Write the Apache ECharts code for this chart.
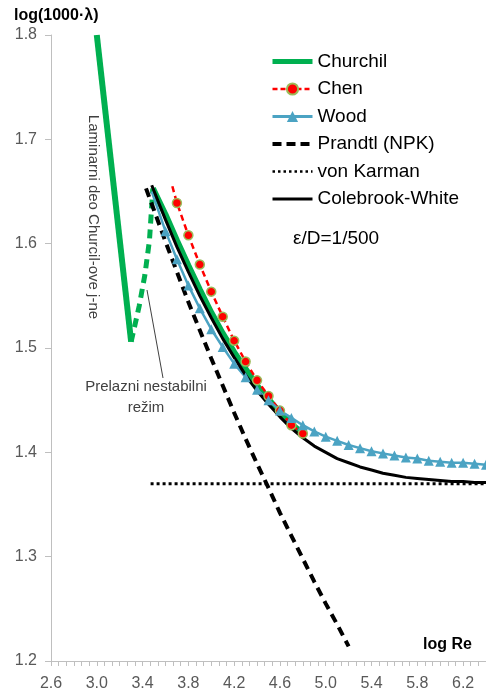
<!DOCTYPE html>
<html>
<head>
<meta charset="utf-8">
<script src="https://cdn.jsdelivr.net/npm/echarts@6/dist/echarts.min.js"></script>
<style>
  html, body { margin: 0; padding: 0; background: #fff; }
  #chart { width: 486px; height: 700px; }
</style>
</head>
<body>
<div id="chart"></div>
<script>
// log Re / log(1000*lambda)
const churchLamX = [3.0, 3.3];
const churchLamY = [1.8, 1.506];
const churchTransX = [3.3, 3.37, 3.42, 3.46, 3.49];
const churchTransY = [1.506, 1.54, 1.57, 1.603, 1.653];
const churchTurbX = [3.49, 3.6, 3.7, 3.8, 3.9, 4.0, 4.1, 4.2, 4.3, 4.4, 4.5, 4.6, 4.7, 4.8];
const churchTurbY = [1.653, 1.628, 1.603, 1.579, 1.556, 1.534, 1.514, 1.496, 1.480, 1.464, 1.451, 1.438, 1.427, 1.418];

const chenX = [3.66, 3.7, 3.8, 3.9, 4.0, 4.1, 4.2, 4.3, 4.4, 4.5, 4.6, 4.7, 4.8];
const chenY = [1.655, 1.639, 1.608, 1.580, 1.554, 1.530, 1.507, 1.487, 1.469, 1.454, 1.440, 1.426, 1.418];

const woodX = [3.48, 3.6, 3.7, 3.8, 3.9, 4.0, 4.1, 4.2, 4.3, 4.4, 4.5, 4.6, 4.7, 4.8, 4.9, 5.0,
  5.1, 5.2, 5.3, 5.4, 5.5, 5.6, 5.7, 5.8, 5.9, 6.0, 6.1, 6.2, 6.3, 6.4];
const woodY = [1.650, 1.612, 1.585, 1.560, 1.538, 1.518, 1.501, 1.485, 1.472, 1.460, 1.450, 1.440, 1.433, 1.426, 1.420, 1.415,
  1.411, 1.407, 1.404, 1.401, 1.399, 1.397, 1.395, 1.394, 1.392, 1.391, 1.390, 1.390, 1.389, 1.388];

const prandtlX = [3.43, 3.5, 3.6, 3.7, 3.8, 3.9, 4.0, 4.1, 4.2, 4.3, 4.4, 4.5, 4.6, 4.7, 4.8, 4.9, 5.0, 5.1, 5.2];
const prandtlY = [1.653, 1.632, 1.602, 1.573, 1.544, 1.517, 1.490, 1.464, 1.438, 1.413, 1.389, 1.366, 1.342, 1.320, 1.298, 1.276, 1.255, 1.235, 1.214];

const karmanX = [3.47, 6.4];
const karmanY = [1.37, 1.37];

const cwX = [3.48, 3.6, 3.7, 3.8, 3.9, 4.0, 4.1, 4.2, 4.3, 4.4, 4.5, 4.6, 4.7, 4.8, 4.9, 5.0,
  5.1, 5.2, 5.3, 5.4, 5.5, 5.6, 5.7, 5.8, 5.9, 6.0, 6.1, 6.2, 6.3, 6.4];
const cwY = [1.656, 1.623, 1.597, 1.573, 1.550, 1.529, 1.509, 1.491, 1.474, 1.459, 1.446, 1.434, 1.423, 1.414, 1.406, 1.400,
  1.394, 1.390, 1.386, 1.383, 1.380, 1.378, 1.376, 1.375, 1.374, 1.373, 1.372, 1.372, 1.371, 1.371];

const legendNames = ["Churchil", "Chen", "Wood", "Prandtl (NPK)", "von Karman", "Colebrook-White"];

const pairs = (xs, ys) => xs.map((x, i) => [x, ys[i]]);

const chart = echarts.init(document.getElementById("chart"));

const green = "#00B050";
const blue = "#4BA3C3";
const font = "'Liberation Sans', Arial, sans-serif";

// legend samples: line only for the plain series
const noSymbol = { opacity: 0 };
const legendData = [
  { name: legendNames[0], itemStyle: noSymbol, lineStyle: { color: green, width: 5 } },
  { name: legendNames[1], lineStyle: { color: "#FF0000", width: 2.5, type: [5, 3] } },
  { name: legendNames[2], lineStyle: { color: blue, width: 3 } },
  { name: legendNames[3], itemStyle: noSymbol, lineStyle: { color: "#000", width: 4, type: [9, 5] } },
  { name: legendNames[4], itemStyle: noSymbol, lineStyle: { color: "#000", width: 2.5, type: [2.5, 3] } },
  { name: legendNames[5], itemStyle: noSymbol, lineStyle: { color: "#000", width: 3 } },
];

const option = {
  animation: false,
  backgroundColor: "#fff",
  grid: {
    left: 51,
    right: 0,
    top: 35,
    bottom: 39,
    outerBoundsMode: "none",
  },
  legend: {
    data: legendData,
    orient: "vertical",
    left: 270,
    top: 52,
    padding: 0,
    itemWidth: 40,
    itemHeight: 14,
    itemGap: 8.5,
    selectedMode: false,
    textStyle: {
      color: "#000",
      fontSize: 19,
      fontFamily: font,
      lineHeight: 19,
    },
  },
  xAxis: {
    type: "value",
    min: 2.6,
    max: 6.4,
    interval: 0.4,
    axisLine: { show: true, lineStyle: { color: "#BFBFBF", width: 1 } },
    axisTick: { show: true, length: 5, lineStyle: { color: "#BFBFBF" } },
    minorTick: { show: true, splitNumber: 6, length: 5, lineStyle: { color: "#BFBFBF" } },
    splitLine: { show: false },
    axisLabel: {
      color: "#595959",
      fontSize: 16,
      fontFamily: font,
      margin: 15,
      showMaxLabel: false,
      formatter: (v) => v.toFixed(1),
    },
  },
  yAxis: {
    type: "value",
    min: 1.2,
    max: 1.8,
    interval: 0.1,
    axisLine: { show: true, lineStyle: { color: "#BFBFBF", width: 1 } },
    axisTick: { show: true, length: 6, lineStyle: { color: "#BFBFBF" } },
    splitLine: { show: false },
    axisLabel: {
      color: "#595959",
      fontSize: 16,
      fontFamily: font,
      margin: 14,
      formatter: (v) => v.toFixed(1),
    },
  },
  series: [
    {
      name: "Churchil",
      type: "line",
      data: pairs(churchLamX, churchLamY),
      symbol: "none",
      lineStyle: { color: green, width: 6 },
      itemStyle: { color: green },
    },
    {
      name: "Churchil",
      type: "line",
      data: pairs(churchTransX, churchTransY),
      symbol: "none",
      lineStyle: { color: green, width: 5, type: [9, 6] },
      itemStyle: { color: green },
    },
    {
      name: "Churchil",
      type: "line",
      data: pairs(churchTurbX, churchTurbY),
      symbol: "none",
      lineStyle: { color: green, width: 6 },
      itemStyle: { color: green },
    },
    {
      name: "Chen",
      type: "line",
      data: pairs(chenX, chenY).map((p, i) => (i === 0 ? { value: p, symbol: "none" } : p)),
      symbol: "circle",
      symbolSize: 9,
      lineStyle: { color: "#FF0000", width: 2.5, type: [6, 4] },
      itemStyle: { color: "#FF0000", borderColor: "#9BBB59", borderWidth: 1.5 },
    },
    {
      name: "Wood",
      type: "line",
      data: pairs(woodX, woodY).map((p, i) => (i === 0 ? { value: p, symbol: "none" } : p)),
      symbol: "triangle",
      symbolSize: 10,
      lineStyle: { color: blue, width: 2.5 },
      itemStyle: { color: blue },
    },
    {
      name: "Prandtl (NPK)",
      type: "line",
      data: pairs(prandtlX, prandtlY),
      symbol: "none",
      lineStyle: { color: "#000", width: 4, type: [9, 6] },
      itemStyle: { color: "#000" },
    },
    {
      name: "von Karman",
      type: "line",
      data: pairs(karmanX, karmanY),
      symbol: "none",
      lineStyle: { color: "#000", width: 3, type: [3, 3] },
      itemStyle: { color: "#000" },
    },
    {
      name: "Colebrook-White",
      type: "line",
      data: pairs(cwX, cwY),
      symbol: "none",
      lineStyle: { color: "#000", width: 3 },
      itemStyle: { color: "#000" },
    },
  ],
  graphic: [
    {
      type: "text",
      left: 14,
      top: 8,
      style: { text: "log(1000·λ)", fill: "#000", font: "bold 16px " + font },
    },
    {
      type: "text",
      left: 423,
      top: 637,
      style: { text: "log Re", fill: "#000", font: "bold 16px " + font },
    },
    {
      type: "text",
      x: 93,
      y: 217,
      rotation: -Math.PI / 2,
      style: {
        text: "Laminarni deo Churcil-ove j-ne",
        fill: "#404040",
        font: "15px " + font,
        align: "center",
        verticalAlign: "middle",
      },
    },
    {
      type: "text",
      x: 146,
      y: 397,
      style: {
        text: "Prelazni nestabilni\nrežim",
        fill: "#404040",
        font: "15px " + font,
        align: "center",
        verticalAlign: "middle",
        lineHeight: 21,
      },
    },
    {
      type: "line",
      shape: { x1: 147, y1: 290, x2: 163, y2: 378 },
      style: { stroke: "#404040", lineWidth: 1 },
    },
    {
      type: "text",
      x: 293,
      y: 239,
      style: {
        text: "ε/D=1/500",
        fill: "#000",
        font: "19px " + font,
        verticalAlign: "middle",
      },
    },
  ],
};

chart.setOption(option);
window.addEventListener("resize", () => {
  chart && chart.resize();
});
</script>
</body>
</html>
